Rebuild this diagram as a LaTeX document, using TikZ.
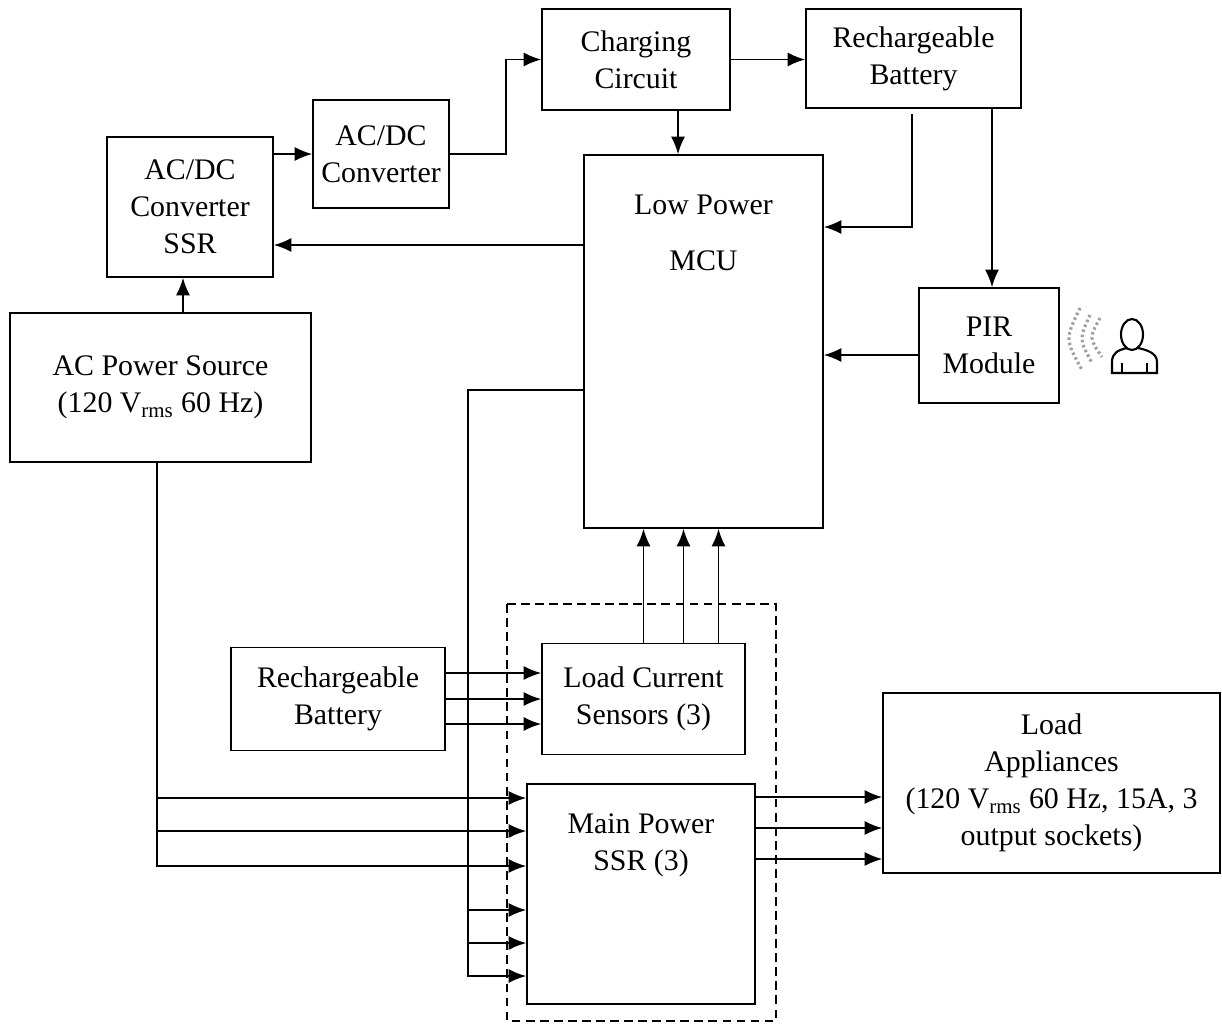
\documentclass[tikz,border=0pt]{standalone}
\usepackage{fontspec}
\setmainfont{Liberation Serif}
\usetikzlibrary{arrows.meta,calc}
\begin{document}
\begin{tikzpicture}[x=0.02cm,y=-0.02cm,
  font=\fontsize{17}{21}\selectfont,
  blk/.style={draw,line width=0.95pt,align=center,inner sep=0pt},
  arr/.style={line width=0.95pt,-{Latex[length=10pt,width=8pt]}},
  wave/.style={gray!75,line width=1.8pt,dash pattern=on 1.4pt off 1.6pt}]
\useasboundingbox (0,0) rectangle (1222,1025);
% blocks
\node[blk,minimum width=3.32cm,minimum height=2.8cm] (ssr) at (190,207) {AC/DC\\Converter\\SSR};
\node[blk,minimum width=2.72cm,minimum height=2.16cm] (conv) at (381,154) {AC/DC\\Converter};
\node[blk,minimum width=3.76cm,minimum height=2.02cm] (charge) at (636,59.5) {Charging\\Circuit};
\node[blk,minimum width=4.3cm,minimum height=1.98cm] (batta) at (913.5,58.5) {Rechargeable\\Battery};
\node[blk,minimum width=4.78cm,minimum height=7.46cm] (mcu) at (703.5,341.5) {};
\node[align=center] (mcutxt) at (703.5,233) {Low Power\\[11pt]MCU};
\node[blk,minimum width=2.8cm,minimum height=2.3cm] (pir) at (989,345.5) {PIR\\Module};
\node[blk,minimum width=6.02cm,minimum height=2.98cm] (acsrc) at (160.5,387.5) {AC Power Source\\(120 V\textsubscript{rms} 60 Hz)};
\node[blk,minimum width=4.28cm,minimum height=2.06cm] (battb) at (338,699) {Rechargeable\\Battery};
\node[blk,minimum width=4.06cm,minimum height=2.22cm] (sens) at (643.5,699) {Load Current\\Sensors (3)};
\node[blk,minimum width=4.56cm,minimum height=4.4cm] (mainssr) at (641,894) {};
\node[align=center] (mainssrtxt) at (641,845) {Main Power\\SSR (3)};
\node[blk,minimum width=6.74cm,minimum height=3.6cm] (load) at (1051.5,783) {Load\\Appliances\\(120 V\textsubscript{rms} 60 Hz, 15A, 3\\output sockets)};
% group of sensors and SSR
\draw[line width=0.95pt,dash pattern=on 5pt off 3pt] (507,604) rectangle (776,1021);
% connectors
\draw[arr] (ssr.east |- conv.west) -- (conv.west);
\draw[arr] (conv.east) -- ++(56,0) |- (charge.west);
\draw[arr] (charge.east) -- (charge.east -| batta.west);
\draw[arr] ($(charge.south)+(42,0)$) -- ($(mcu.north)+(-25.5,0)$);
\draw[arr] ($(batta.south)+(-1.5,5)$) |- ($(mcu.east)+(0,-114.5)$);
\draw[arr] ($(batta.south)+(78.5,0)$) -- ($(pir.north)+(3,0)$);
\draw[arr] ($(pir.west)+(0,9.5)$) -- ($(mcu.east)+(0,13.5)$);
\draw[arr] ($(mcu.west)+(0,-96.5)$) -- ($(ssr.east)+(0,38)$);
\draw[arr] ($(acsrc.north)+(22.5,0)$) -- ($(ssr.south)+(-7,0)$);
\foreach \dy in {-96,-63,-28}
  \draw[arr] ($(acsrc.south)+(-3.5,0)$) |- ($(mainssr.west)+(0,\dy)$);
\foreach \dy in {16,49,82}
  \draw[arr] ($(mcu.west)+(0,48.5)$) -- ++(-115,0) |- ($(mainssr.west)+(0,\dy)$);
\foreach \dy in {-26,0,25}
  \draw[arr] ($(battb.east)+(0,\dy)$) -- ($(sens.west)+(0,\dy)$);
\foreach \dx in {0,40,75}
  \draw[arr] ($(sens.north)+(\dx,0)$) -- ($(mcu.south)+(\dx-60,0)$);
\foreach \dy in {-97,-66,-35}
  \draw[arr] ($(mainssr.east)+(0,\dy)$) -- ($(load.west)+(0,\dy+111)$);
% person and sensing waves
\draw[line width=1.2pt] (1132,334.5) ellipse[x radius=11,y radius=15.5];
\draw[line width=1.2pt] (1127,348) .. controls (1118,350) and (1112,353) .. (1112,362)
  -- (1112,373) -- (1157,373) -- (1157,362) .. controls (1157,353) and (1147,350) .. (1138,348);
\draw[line width=1.2pt] (1122,363) -- (1122,373) (1147,363) -- (1147,373);
\draw[wave] (1080,308) .. controls (1065,339) .. (1082,370);
\draw[wave] (1090,315) .. controls (1079,339) .. (1092,363);
\draw[wave] (1100,318) .. controls (1089,338) .. (1102,357);
\end{tikzpicture}
\end{document}
